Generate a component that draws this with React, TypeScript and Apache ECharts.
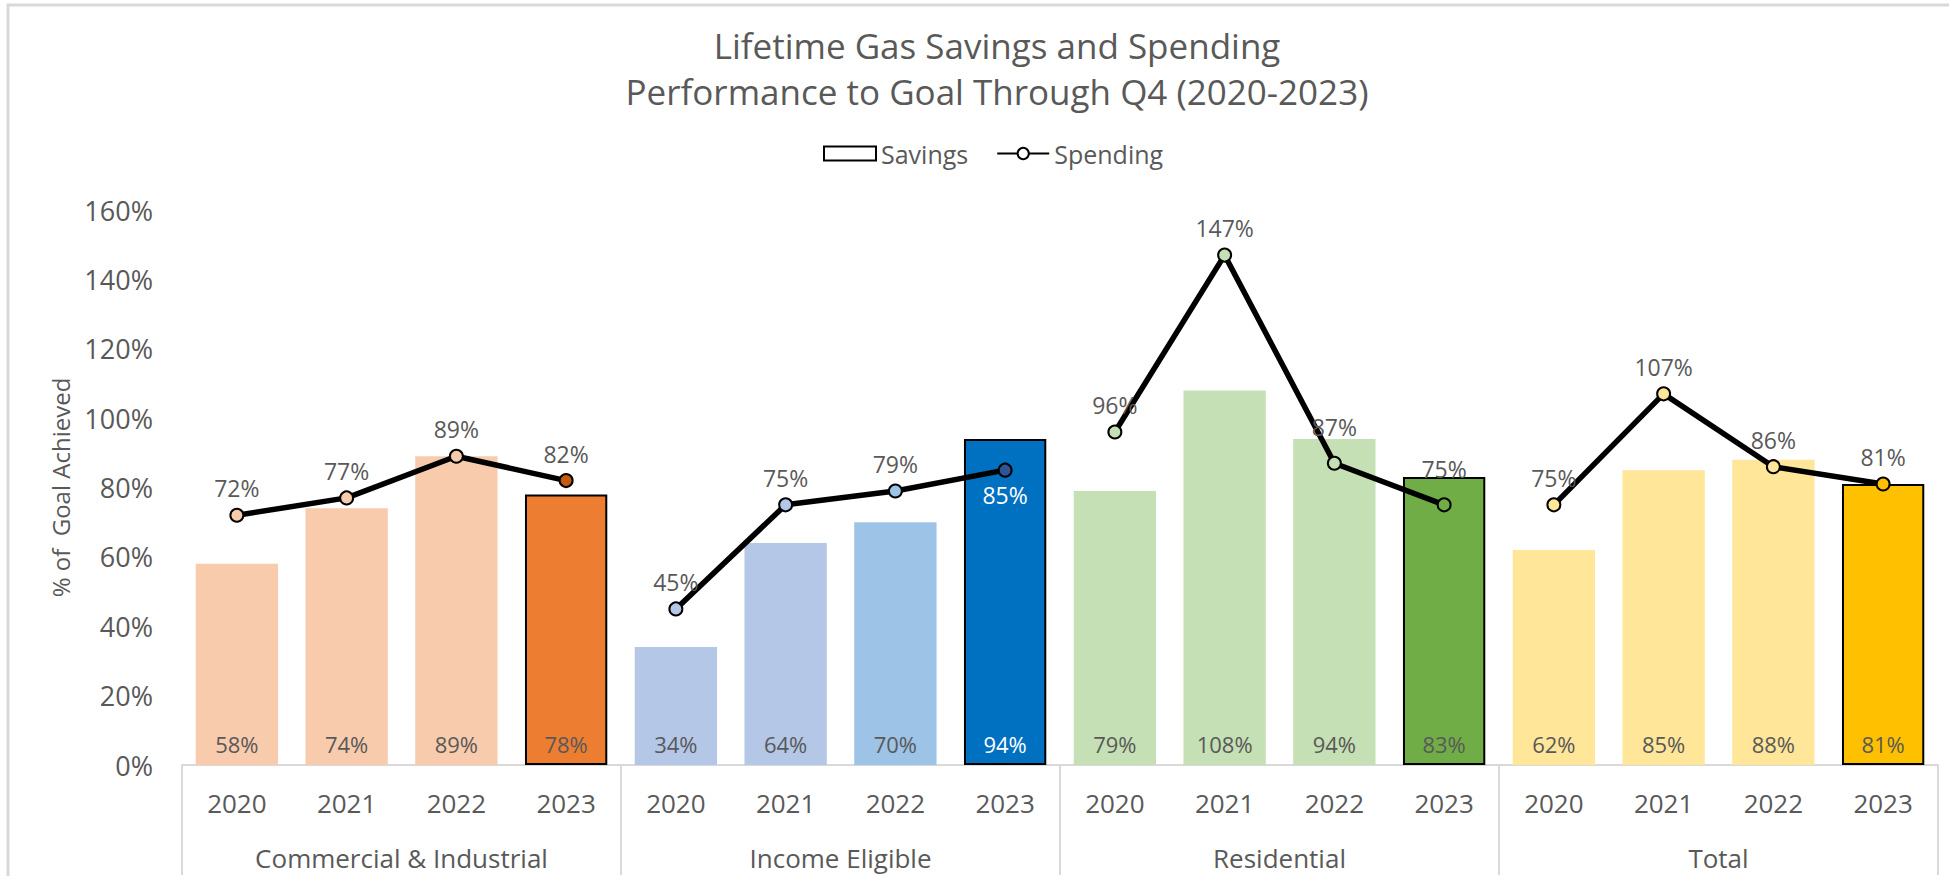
import React, { useEffect, useRef } from "react";
import * as echarts from "echarts";

const groups = ["Commercial & Industrial", "Income Eligible", "Residential", "Total"];
const years = ["2020", "2021", "2022", "2023"];
const savings = [
  [58, 74, 89, 78],
  [34, 64, 70, 94],
  [79, 108, 94, 83],
  [62, 85, 88, 81],
];
const spending = [
  [72, 77, 89, 82],
  [45, 75, 79, 85],
  [96, 147, 87, 75],
  [75, 107, 86, 81],
];
const yTicks = [0, 20, 40, 60, 80, 100, 120, 140, 160];

// styles
const barColors = [
  ["#F8CBAD", "#F8CBAD", "#F8CBAD", "#ED7D31"],
  ["#B4C7E7", "#B4C7E7", "#9DC3E6", "#0070C0"],
  ["#C5E0B4", "#C5E0B4", "#C5E0B4", "#70AD47"],
  ["#FFE699", "#FFE699", "#FFE699", "#FFC000"],
];
const markerColors = [
  ["#F8CBAD", "#F8CBAD", "#F8CBAD", "#C55A11"],
  ["#B4C7E7", "#B4C7E7", "#9DC3E6", "#2F5597"],
  ["#C5E0B4", "#C5E0B4", "#C5E0B4", "#70AD47"],
  ["#FFE699", "#FFE699", "#FFE699", "#FFC000"],
];

const FONT = "'Open Sans', sans-serif";
const GRAY = "#595959";

export default function App() {
  const ref = useRef<HTMLDivElement>(null);
  useEffect(() => {
    if (!ref.current) return;
    const chart = echarts.init(ref.current, undefined, { renderer: "svg" });
    const cats: string[] = [];
    groups.forEach((g, gi) => years.forEach((y) => cats.push(gi + "|" + y)));

    const barData: any[] = [];
    savings.forEach((arr, gi) =>
      arr.forEach((v, yi) => {
        const last = yi === 3;
        barData.push({
          value: v,
          itemStyle: {
            color: barColors[gi][yi],
            borderColor: last ? "#000" : "transparent",
            borderWidth: last ? 2 : 0,
          },
          label: gi === 1 && last ? { color: "#fff" } : undefined,
        });
      })
    );

    const lineSeries = spending.map((arr, gi) => {
      const data: any[] = cats.map(() => null);
      arr.forEach((v, yi) => {
        const item: any = { value: v, itemStyle: { color: markerColors[gi][yi] } };
        if (gi === 1 && yi === 3) item.label = { position: "bottom", color: "#fff", distance: 6 };
        if (gi === 2 && yi >= 2) item.label = { distance: 17 };
        data[gi * 4 + yi] = item;
      });
      return {
        type: "line",
        name: "Spending",
        data,
        connectNulls: false,
        symbol: "circle",
        symbolSize: 13,
        lineStyle: { color: "#000", width: 5.5 },
        itemStyle: { color: "#fff", borderColor: "#000", borderWidth: 2 },
        label: {
          show: true,
          position: "top",
          distance: 8,
          formatter: "{c}%",
          fontSize: 23,
          color: GRAY,
          fontFamily: FONT,
        },
        z: 5,
      };
    });

    chart.setOption({
      animation: false,
      textStyle: { fontFamily: FONT },
      title: {
        text: "Lifetime Gas Savings and Spending\nPerformance to Goal Through Q4 (2020-2023)",
        left: 992,
        top: 17,
        textAlign: "center",
        textStyle: { fontSize: 35, lineHeight: 46, color: GRAY, fontWeight: "normal", fontFamily: FONT },
      },
      legend: {
        top: 141,
        left: 823,
        padding: 0,
        itemWidth: 52,
        itemHeight: 14,
        itemGap: 28,
        textStyle: { fontSize: 25, color: GRAY, fontFamily: FONT },
        data: [
          { name: "Savings", icon: "rect", itemStyle: { color: "#fff", borderColor: "#000", borderWidth: 2 } },
          { name: "Spending" },
        ],
      },
      graphic: [
        {
          type: "rect",
          shape: { x: 8, y: 5, width: 2000, height: 1000 },
          style: { fill: "none", stroke: "#D9D9D9", lineWidth: 3 },
          silent: true,
        },
      ],
      grid: { left: 182, right: 11, top: 210, bottom: 111, containLabel: false },
      xAxis: [
        {
          type: "category",
          data: cats,
          position: "bottom",
          axisLine: { show: true, lineStyle: { color: "#D9D9D9", width: 2 } },
          axisTick: {
            show: true,
            interval: (i: number) => i % 4 === 0,
            length: 110,
            lineStyle: { color: "#D9D9D9", width: 2 },
          },
          axisLabel: {
            interval: 0,
            margin: 25,
            fontSize: 26,
            color: GRAY,
            fontFamily: FONT,
            formatter: (v: string) => v.split("|")[1],
          },
        },
        {
          type: "category",
          data: groups,
          position: "bottom",
          axisLine: { show: false },
          axisTick: { show: false },
          axisLabel: { interval: 0, margin: 80, fontSize: 26, color: GRAY, fontFamily: FONT },
        },
      ],
      yAxis: {
        type: "value",
        min: yTicks[0],
        max: yTicks[yTicks.length - 1],
        interval: 20,
        splitLine: { show: false },
        axisLine: { show: false },
        axisTick: { show: false },
        axisLabel: { formatter: "{value}%", fontSize: 27, color: GRAY, margin: 29, fontFamily: FONT },
        name: "% of  Goal Achieved",
        nameLocation: "middle",
        nameGap: 110,
        nameTextStyle: { fontSize: 24, color: GRAY, fontFamily: FONT },
      },
      series: [
        {
          type: "bar",
          name: "Savings",
          data: barData,
          barWidth: "75%",
          label: {
            show: true,
            position: "insideBottom",
            distance: 10,
            formatter: "{c}%",
            fontSize: 22,
            color: GRAY,
            fontFamily: FONT,
          },
          z: 2,
        },
        ...lineSeries,
      ],
    });
    return () => chart.dispose();
  }, []);
  return (
    <div
      ref={ref}
      style={{ position: "absolute", left: 0, top: 0, width: 1949, height: 876, background: "#fff" }}
    />
  );
}
